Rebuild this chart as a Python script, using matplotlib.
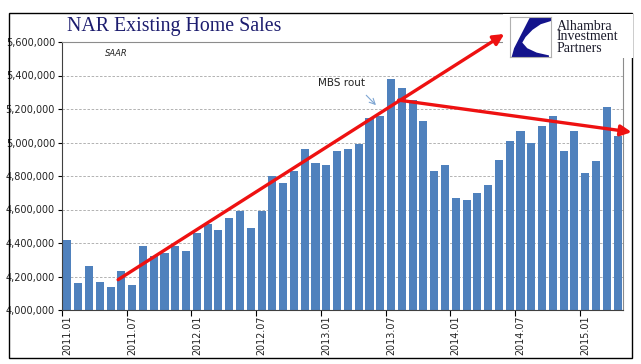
import numpy as np
import matplotlib.pyplot as plt
from matplotlib.patches import Rectangle, Polygon

# monthly existing home sales, SAAR, 2011.01 - 2015.04
sales = [4420, 4160, 4260, 4170, 4135, 4230, 4150, 4380, 4325, 4340, 4385, 4350,
         4460, 4515, 4475, 4550, 4590, 4490, 4590, 4800, 4760, 4830, 4960, 4880,
         4865, 4950, 4960, 4990, 5145, 5160, 5380, 5325, 5255, 5130, 4830, 4865,
         4670, 4655, 4700, 4745, 4895, 5010, 5070, 5000, 5100, 5160, 4950, 5070,
         4820, 4890, 5210, 5040]
sales = np.array(sales) * 1000
tick_labels = ["2011.01", "2011.07", "2012.01", "2012.07", "2013.01",
               "2013.07", "2014.01", "2014.07", "2015.01"]
yticks = np.arange(4000000, 5600001, 200000)

W, H = 641, 364
fig = plt.figure(figsize=(W / 100, H / 100), dpi=100)

# outer frame
fig.patches.append(Rectangle((9 / W, 1 - 358 / H), 623 / W, 345 / H,
                             transform=fig.transFigure, fill=False,
                             edgecolor="black", lw=1.0))

ax = fig.add_axes([62 / W, 1 - 310 / H, 561 / W, 268 / H])
x = np.arange(len(sales))
ax.bar(x, sales, width=0.75, color="#4F81BD", zorder=2)

ax.set_xlim(-0.5, len(sales) - 0.5)
ax.set_ylim(4000000, 5600000)
ax.set_yticks(yticks)
ax.set_yticklabels([f"{v:,}" for v in yticks], fontsize=7, color="#222222")
ax.grid(axis="y", color="#a6a6a6", lw=0.6, ls=(0, (3, 2)), zorder=0)

# category labels under the bars, tick marks between groups of 6
ax.set_xticks(x[::6])
ax.set_xticklabels(tick_labels, rotation=90, fontsize=6.9, color="#222222")
ax.tick_params(axis="x", length=0, pad=4)
ax.set_xticks(np.arange(-0.5, len(sales), 6), minor=True)
ax.tick_params(axis="x", which="minor", length=4, width=0.8, direction="out")
ax.tick_params(axis="y", length=3, width=0.8, pad=2)

for s in ["left", "bottom"]:
    ax.spines[s].set_color("#404040")
    ax.spines[s].set_linewidth(0.8)
for s in ["top", "right"]:
    ax.spines[s].set_color("#8c8c8c")
    ax.spines[s].set_linewidth(0.8)

fig.text(67 / W, 1 - 27 / H, "NAR Existing Home Sales", family="Liberation Serif",
         fontsize=14.3, color="#1c1c6e", va="center", ha="left")
fig.text(105 / W, 1 - 54 / H, "SAAR", fontsize=6, style="italic",
         color="#222222", va="center")

red = "#ee1111"
ax.annotate("", xy=(40.5, 5648000), xytext=(4.7, 4181000),
            arrowprops=dict(arrowstyle="-|>", color=red, lw=2.4, mutation_scale=16,
                            shrinkA=0, shrinkB=0),
            annotation_clip=False, zorder=5)
ax.annotate("", xy=(52.3, 5062000), xytext=(30.7, 5253000),
            arrowprops=dict(arrowstyle="-|>", color=red, lw=2.4, mutation_scale=16,
                            shrinkA=0, shrinkB=0),
            annotation_clip=False, zorder=5)

ax.text(25.4, 5355000, "MBS rout", fontsize=7.5, ha="center", va="center",
        color="#222222")
ax.annotate("", xy=(28.6, 5223000), xytext=(27.7, 5282000),
            arrowprops=dict(arrowstyle="->", color="#7ea6d3", lw=0.8,
                            shrinkA=0, shrinkB=0))

# logo block
fig.patches.append(Rectangle((503 / W, 1 - 58 / H), 130 / W, 44 / H,
                             transform=fig.transFigure, facecolor="white",
                             edgecolor="none", zorder=3))
lax = fig.add_axes([510 / W, 1 - 57 / H, 41 / W, 40 / H], zorder=4)
lax.set_xlim(0, 1)
lax.set_ylim(0, 1)
lax.set_xticks([])
lax.set_yticks([])
for s in lax.spines.values():
    s.set_color("#b0b0b0")
    s.set_linewidth(0.8)
lax.add_patch(Polygon([(0.49, 1.0), (1.0, 1.0), (1.0, 0.9), (0.75, 0.82),
                       (0.55, 0.68), (0.38, 0.5), (0.3, 0.36), (0.42, 0.22),
                       (0.65, 0.11), (0.95, 0.04), (0.95, 0.0), (0.04, 0.0),
                       (0.1, 0.22), (0.2, 0.42)],
                      closed=True, facecolor="#14148c", edgecolor="none"))
fig.text(557 / W, 1 - 37 / H, "Alhambra\nInvestment\nPartners",
         family="Liberation Serif", fontsize=10, linespacing=0.8,
         color="#1a1a2a", va="center", ha="left", zorder=5)

fig.savefig("out.png", dpi=100)
